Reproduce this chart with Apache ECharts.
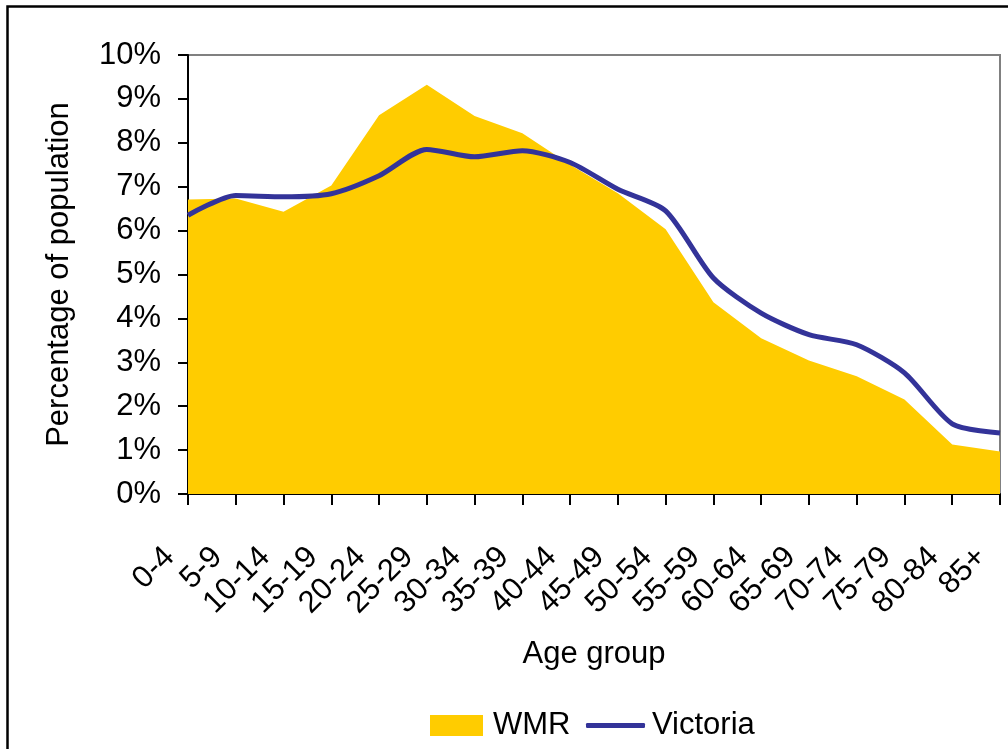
<!DOCTYPE html>
<html>
<head>
<meta charset="utf-8">
<script src="https://cdn.jsdelivr.net/npm/echarts@6/dist/echarts.min.js"></script>
<style>
  html, body { margin: 0; padding: 0; background: #fff; }
  #main { width: 1008px; height: 749px; }
</style>
</head>
<body>
<div id="main"></div>
<script>
// age groups along the x axis
const ageGroups = ['0-4', '5-9', '10-14', '15-19', '20-24', '25-29', '30-34', '35-39', '40-44',
  '45-49', '50-54', '55-59', '60-64', '65-69', '70-74', '75-79', '80-84', '85+'];

// percentage of population
const wmrValues = [6.71, 6.73, 6.43, 7.03, 8.63, 9.32, 8.61, 8.22, 7.5,
  6.85, 6.03, 4.37, 3.55, 3.04, 2.68, 2.15, 1.13, 0.97];
const victoriaValues = [6.35, 6.8, 6.77, 6.84, 7.25, 7.85, 7.68, 7.82, 7.55,
  6.94, 6.45, 4.92, 4.12, 3.63, 3.4, 2.76, 1.6, 1.39];

const yTicks = [0, 10, 1]; // min, max, interval

const chart = echarts.init(document.getElementById('main'));
const font = 'Liberation Sans, Arial, sans-serif';
const fs = 31;

const option = {
  backgroundColor: '#fff',
  animation: false,
  textStyle: { fontFamily: font, color: '#000' },
  graphic: [{
    type: 'rect',
    shape: { x: 7.5, y: 6.5, width: 1030, height: 790 },
    style: { fill: 'none', stroke: '#000', lineWidth: 2.5 },
    silent: true
  }],
  grid: {
    left: 188, right: 8, top: 55, bottom: 255,
    show: true, borderColor: '#808080', borderWidth: 2, backgroundColor: 'transparent'
  },
  legend: [{
    data: [{ name: 'WMR', icon: 'rect' }],
    left: 430, top: 710, padding: 0,
    itemWidth: 53, itemHeight: 21,
    textStyle: { fontSize: fs, fontFamily: font, color: '#000', padding: [0, 0, 0, 5] }
  }, {
    data: [{ name: 'Victoria', icon: 'roundRect' }],
    left: 586, top: 710, padding: 0,
    itemWidth: 59, itemHeight: 5,
    textStyle: { fontSize: fs, fontFamily: font, color: '#000', padding: [0, 0, 0, 2] }
  }],
  xAxis: {
    type: 'category',
    data: ageGroups,
    boundaryGap: false,
    name: 'Age group',
    nameLocation: 'middle',
    nameGap: 145,
    nameTextStyle: { fontSize: fs, fontFamily: font, color: '#000' },
    axisLine: { lineStyle: { color: '#000', width: 2 } },
    axisTick: { show: true, length: 11, lineStyle: { color: '#000', width: 2 } },
    axisLabel: {
      rotate: 45, interval: 0, fontSize: fs, fontFamily: font, color: '#000',
      margin: 40, padding: [0, 26, 0, 0]
    },
    splitLine: { show: false }
  },
  yAxis: {
    type: 'value',
    min: yTicks[0], max: yTicks[1], interval: yTicks[2],
    name: 'Percentage of population',
    nameLocation: 'middle',
    nameGap: 113,
    nameTextStyle: { fontSize: fs, fontFamily: font, color: '#000' },
    axisLine: { show: true, lineStyle: { color: '#000', width: 2 } },
    axisTick: { show: true, length: 10, lineStyle: { color: '#000', width: 2 } },
    axisLabel: { formatter: '{value}%', fontSize: fs, fontFamily: font, color: '#000', margin: 27 },
    splitLine: { show: false }
  },
  series: [{
    name: 'WMR',
    type: 'line',
    data: wmrValues,
    symbol: 'none',
    lineStyle: { width: 0 },
    itemStyle: { color: '#FFCC00' },
    areaStyle: { color: '#FFCC00', opacity: 1 },
    z: 1
  }, {
    name: 'Victoria',
    type: 'line',
    data: victoriaValues,
    symbol: 'none',
    smooth: 0.25,
    lineStyle: { width: 5, color: '#333399' },
    itemStyle: { color: '#333399' },
    z: 3
  }]
};

chart.setOption(option);
</script>
</body>
</html>
